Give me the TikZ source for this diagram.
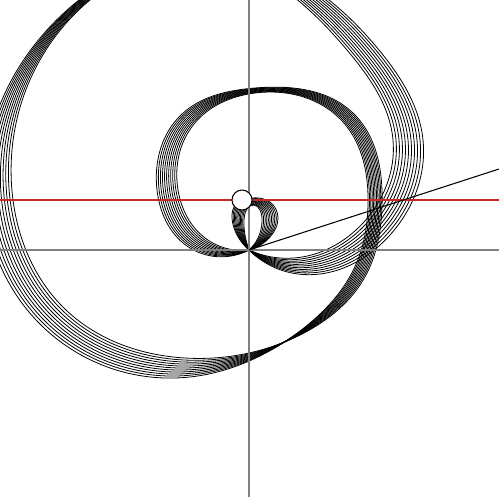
\documentclass[tikz,border=0pt]{standalone}
\usetikzlibrary{hobby}
\definecolor{levelred}{RGB}{200,40,40}
\begin{document}
\begin{tikzpicture}[x=0.02cm,y=-0.02cm,
    axis/.style={draw=gray,line width=1.1pt},
    strand/.style={draw=black,line width=0.45pt,use Hobby shortcut},
    ray/.style={draw=black,line width=0.6pt},
    level/.style={draw=levelred,line width=0.6pt}]
\useasboundingbox (0,0) rectangle (499,497);
\clip (0,0) rectangle (499,497);
\coordinate (O) at (249,250);
\coordinate (top) at (249,0);
\coordinate (bottom) at (249,497);
\coordinate (left) at (0,250);
\coordinate (right) at (499,250);
\coordinate (lvlleft) at (0,200);
\coordinate (lvlright) at (499,200);
\coordinate (tip) at (499,169);

% family of orbits, t=0 inner ... t=1 outer
\foreach \k in {0,...,10}{
  \pgfmathsetmacro\t{\k/10}
  \draw[strand] (O) .. ({294+4*\t},{258+16*\t}) .. ({363+27*\t},{223+12*\t})
    .. ({393+30*\t},{140}) .. ({347+32*\t},{50}) .. ({210},{-40-8*\t})
    .. ({90-11*\t},{0}) .. ({13-28*\t},{200+5*\t}) .. ({66-24*\t},{310+16*\t})
    .. ({185-10*\t},{358+20*\t}) .. ({300},{335-4*\t}) .. ({366-9*\t},{275-13*\t})
    .. ({382-14*\t},{205}) .. ({353-10*\t},{113+9*\t}) .. ({255},{88+5*\t})
    .. ({182+12*\t},{114+10*\t}) .. ({157+21*\t},{190}) .. ({187+18*\t},{246-8*\t})
    .. (O);
  \draw[strand] (O) .. ({245-8*\t},{235}) .. ({244-12*\t},{220-2*\t})
    .. ({247-11*\t},{209-5*\t}) .. ({254-3*\t},{205-7*\t}) .. ({260+10*\t},{210-8*\t})
    .. ({262+16*\t},{222-4*\t}) .. ({258+12*\t},{238-1*\t}) .. (O);
}

\draw[axis] (top) -- (bottom);
\draw[axis] (left) -- (right);
\draw[level] (lvlleft) -- (lvlright);
\draw[ray] (O) -- (tip);
\node[draw,circle,fill=white,line width=0.6pt,minimum size=0.4cm,inner sep=0pt] (ball) at (242,200) {};
\end{tikzpicture}
\end{document}
